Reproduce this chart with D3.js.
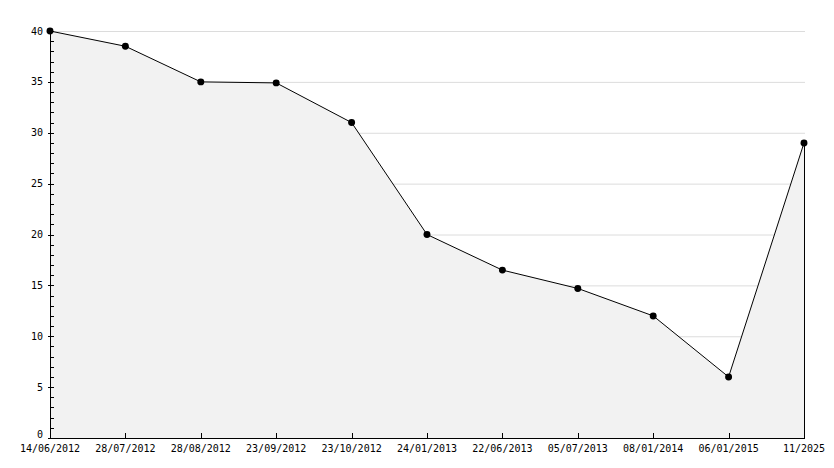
<!DOCTYPE html>
<html><head><meta charset="utf-8">
<script src="https://cdn.jsdelivr.net/npm/d3@7"></script>
<style>body{margin:0;background:#fff}svg{display:block}</style>
</head><body>
<svg id="c" width="834" height="468"></svg>
<script>
const categories = ["14/06/2012","28/07/2012","28/08/2012","23/09/2012","23/10/2012","24/01/2013","22/06/2013","05/07/2013","08/01/2014","06/01/2015","11/2025"];
const values = [40, 38.5, 35, 34.9, 31, 20, 16.5, 14.7, 12, 6, 29];
const yTicks = [0, 5, 10, 15, 20, 25, 30, 35, 40];

const svg = d3.select("#c");
const L = 50, R = 804, T = 31, B = 438;
const font = "'DejaVu Sans Mono', monospace";
const x = d3.scalePoint().domain(categories).range([L, R]);
const y = d3.scaleLinear().domain([0, 40]).range([B, T]);

// gridlines
svg.append("g").selectAll("line").data(yTicks.filter(d => d > 0)).join("line")
  .attr("x1", L).attr("x2", R + 1)
  .attr("y1", d => y(d) + 0.5).attr("y2", d => y(d) + 0.5)
  .attr("stroke", "#dcdcdc").attr("stroke-width", 1);

// area
const pts = categories.map((c, i) => [x(c), y(values[i])]);
const area = d3.area().x(d => d[0]).y0(B).y1(d => d[1]);
svg.append("path").datum(pts).attr("d", area).attr("fill", "#f2f2f2");

// right edge line
svg.append("line").attr("x1", R + 0.5).attr("x2", R + 0.5)
  .attr("y1", y(values[values.length - 1])).attr("y2", B)
  .attr("stroke", "#000");

// line
svg.append("path").datum(pts).attr("d", d3.line())
  .attr("fill", "none").attr("stroke", "#000").attr("stroke-width", 1);

// markers
svg.append("g").selectAll("path").data(pts).join("path")
  .attr("transform", d => `translate(${d[0]},${d[1]})`)
  .attr("d", d3.symbol().type(d3.symbolCircle).size(38))
  .attr("fill", "#000");

// y axis
const yAxis = svg.append("g");
yAxis.append("line").attr("x1", L + 0.5).attr("x2", L + 0.5).attr("y1", T).attr("y2", B).attr("stroke", "#000");
const minor = d3.range(0, 41, 1);
yAxis.selectAll(".mt").data(minor).join("line")
  .attr("x1", d => d % 5 === 0 ? L - 2 : L).attr("x2", L + 4)
  .attr("y1", d => Math.round(y(d)) + 0.5).attr("y2", d => Math.round(y(d)) + 0.5)
  .attr("stroke", "#000");
yAxis.selectAll("text").data(yTicks).join("text")
  .attr("x", L - 7).attr("y", d => d === 0 ? y(d) - 4 : y(d))
  .attr("dy", "0.35em").attr("text-anchor", "end")
  .attr("font-family", font).attr("font-size", 10).attr("fill", "#000")
  .text(d => d);

// x axis
const xAxis = svg.append("g");
xAxis.append("line").attr("x1", L).attr("x2", R + 1).attr("y1", B + 0.5).attr("y2", B + 0.5).attr("stroke", "#000");
xAxis.selectAll(".xt").data(categories).join("line")
  .attr("x1", d => Math.round(x(d)) + 0.5).attr("x2", d => Math.round(x(d)) + 0.5)
  .attr("y1", B - 5).attr("y2", B)
  .attr("stroke", "#000");
xAxis.selectAll("text").data(categories).join("text")
  .attr("x", d => x(d)).attr("y", B + 14)
  .attr("text-anchor", "middle")
  .attr("font-family", font).attr("font-size", 10).attr("fill", "#000")
  .text(d => d);
</script>
</body></html>
